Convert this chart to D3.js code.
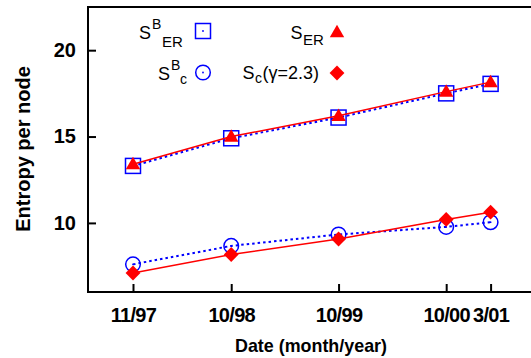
<!DOCTYPE html>
<html>
<head>
<meta charset="utf-8">
<script src="https://cdn.jsdelivr.net/npm/d3@7"></script>
<style>
  body { margin: 0; background: #fff; }
  svg { display: block; font-family: "Liberation Sans", Arial, sans-serif; }
</style>
</head>
<body>
<div id="chart"></div>
<script>
// dates of the snapshots and their tick labels
var dates = [new Date(1997, 10, 1), new Date(1998, 9, 1), new Date(1999, 9, 1), new Date(2000, 9, 1), new Date(2001, 2, 1)];
var dateLabels = ["11/97", "10/98", "10/99", "10/00", "3/01"];
var yTicks = [10, 15, 20];

// series values (entropy per node)
var sBER = [13.3, 14.9, 16.1, 17.5, 18.05];
var sER = [13.4, 15.0, 16.2, 17.6, 18.15];
var sBc = [7.6, 8.67, 9.33, 9.77, 10.04];
var sc = [7.1, 8.17, 9.07, 10.2, 10.62];

const w = 531, h = 358;
const padL = 88, padT = 7, padB = 292, padR = 540;

const xScale = d3.scaleTime()
  .domain([new Date(1997, 5, 1), new Date(2001, 7, 16)])
  .range([padL, padR]);
const yScale = d3.scaleLinear()
  .domain([6, 22.5])
  .range([padB, padT]);

const svg = d3.select("#chart").append("svg")
  .attr("width", w).attr("height", h);

// frame (right side falls outside the picture)
svg.append("rect")
  .attr("x", padL).attr("y", padT)
  .attr("width", padR + 20 - padL).attr("height", padB - padT)
  .attr("fill", "none").attr("stroke", "#000").attr("stroke-width", 2);

// axes with inward ticks
const yAxis = d3.axisLeft(yScale).tickValues(yTicks).tickSizeInner(-8).tickSizeOuter(0).tickPadding(12);
const gy = svg.append("g").attr("transform", "translate(" + padL + ",0)").call(yAxis);
gy.select(".domain").remove();
gy.selectAll(".tick line").attr("stroke-width", 2);
gy.selectAll(".tick text").attr("font-size", 20).attr("font-weight", "bold")
  .attr("font-family", "Liberation Sans, Arial, sans-serif").attr("fill", "#000");

const xAxis = d3.axisBottom(xScale).tickValues(dates).tickFormat((d, i) => dateLabels[i])
  .tickSizeInner(-8).tickSizeOuter(0);
const gx = svg.append("g").attr("transform", "translate(0," + padB + ")").call(xAxis);
gx.select(".domain").remove();
gx.selectAll(".tick line").attr("stroke-width", 2);
gx.selectAll(".tick text").attr("font-size", 20).attr("font-weight", "bold")
  .attr("font-family", "Liberation Sans, Arial, sans-serif").attr("fill", "#000")
  .attr("letter-spacing", "-0.7px").attr("y", 0).attr("dy", 0)
  .attr("transform", "translate(0,30)");

// axis titles
svg.append("text")
  .attr("x", 311).attr("y", 352)
  .attr("text-anchor", "middle")
  .attr("font-size", 19).attr("font-weight", "bold")
  .attr("textLength", 152).attr("lengthAdjust", "spacingAndGlyphs")
  .text("Date (month/year)");

svg.append("text")
  .attr("transform", "translate(30,149) rotate(-90)")
  .attr("text-anchor", "middle")
  .attr("font-size", 20).attr("font-weight", "bold")
  .text("Entropy per node");

const line = d3.line()
  .x((d, i) => xScale(dates[i]))
  .y(d => yScale(d));

function squares(g, data) {
  g.selectAll(null).data(data).enter().append("rect")
    .attr("x", (d, i) => xScale(dates[i]) - 7.5).attr("y", d => yScale(d) - 7.5)
    .attr("width", 15).attr("height", 15)
    .attr("fill", "none").attr("stroke", "#0000ff").attr("stroke-width", 1.5);
  g.selectAll(null).data(data).enter().append("circle")
    .attr("cx", (d, i) => xScale(dates[i])).attr("cy", d => yScale(d)).attr("r", 0.9)
    .attr("fill", "#0000ff");
}
function circles(g, data) {
  g.selectAll(null).data(data).enter().append("circle")
    .attr("cx", (d, i) => xScale(dates[i])).attr("cy", d => yScale(d)).attr("r", 7.3)
    .attr("fill", "none").attr("stroke", "#0000ff").attr("stroke-width", 1.5);
  g.selectAll(null).data(data).enter().append("circle")
    .attr("cx", (d, i) => xScale(dates[i])).attr("cy", d => yScale(d)).attr("r", 0.9)
    .attr("fill", "#0000ff");
}
const triSym = d3.symbol().type(d3.symbolTriangle).size(90);
const diaSym = d3.symbol().type(d3.symbolSquare).size(110);
function triangles(g, data) {
  g.selectAll(null).data(data).enter().append("path")
    .attr("d", triSym)
    .attr("transform", (d, i) => "translate(" + xScale(dates[i]) + "," + (yScale(d) + 1) + ")")
    .attr("fill", "#ff0000");
}
function diamonds(g, data) {
  g.selectAll(null).data(data).enter().append("path")
    .attr("d", diaSym)
    .attr("transform", (d, i) => "translate(" + xScale(dates[i]) + "," + yScale(d) + ") rotate(45)")
    .attr("fill", "#ff0000");
}

// blue series (dotted) first
[sBER, sBc].forEach(function (data) {
  svg.append("path").datum(data).attr("d", line)
    .attr("fill", "none").attr("stroke", "#0000ff").attr("stroke-width", 2)
    .attr("stroke-dasharray", "2.5,3");
});
squares(svg.append("g"), sBER);
circles(svg.append("g"), sBc);

// red series (solid)
[sER, sc].forEach(function (data) {
  svg.append("path").datum(data).attr("d", line)
    .attr("fill", "none").attr("stroke", "#ff0000").attr("stroke-width", 1.5);
});
triangles(svg.append("g"), sER);
diamonds(svg.append("g"), sc);

// legend
const leg = svg.append("g").attr("font-size", 18);
function label(x, y, parts) {
  const t = leg.append("text");
  parts.forEach(function (p) {
    t.append("tspan").attr("x", x + p[0]).attr("y", y + p[1])
      .attr("font-size", p[2]).text(p[3]);
  });
}
label(139, 39, [[0, 0, 18, "S"], [13, -10, 14, "B"], [23, 8, 15, "ER"]]);
label(158, 80, [[0, 0, 18, "S"], [13, -10, 14, "B"], [22, 4, 14, "c"]]);
label(290.5, 39, [[0, 0, 18, "S"], [12.5, 6, 15, "ER"]]);
label(242.5, 79, [[0, 0, 18, "S"], [12.5, 4, 14, "c"], [20, 0, 18, "(\u03b3=2.3)"]]);

leg.append("rect").attr("x", 195.5).attr("y", 23.5).attr("width", 15).attr("height", 15)
  .attr("fill", "none").attr("stroke", "#0000ff").attr("stroke-width", 1.5);
leg.append("circle").attr("cx", 203).attr("cy", 31).attr("r", 0.9).attr("fill", "#0000ff");
leg.append("circle").attr("cx", 203).attr("cy", 72.5).attr("r", 7.3)
  .attr("fill", "none").attr("stroke", "#0000ff").attr("stroke-width", 1.5);
leg.append("circle").attr("cx", 203).attr("cy", 72.5).attr("r", 0.9).attr("fill", "#0000ff");
leg.append("path").attr("d", triSym).attr("transform", "translate(337,33)").attr("fill", "#ff0000");
leg.append("path").attr("d", diaSym).attr("transform", "translate(337,73) rotate(45)").attr("fill", "#ff0000");
</script>
</body>
</html>
